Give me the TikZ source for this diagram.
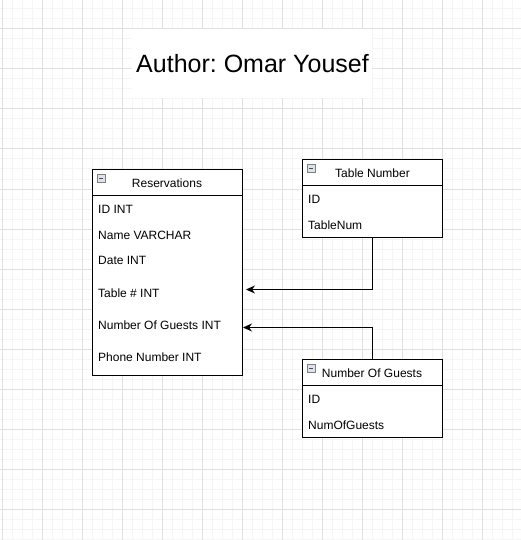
\documentclass[tikz,border=0pt]{standalone}
\usepackage{fontspec}
\setmainfont{Liberation Sans}
\usetikzlibrary{arrows.meta}
\frenchspacing
\definecolor{minorgrid}{HTML}{F5F5F5}
\definecolor{majorgrid}{HTML}{E0E0E0}
\definecolor{iconfill}{HTML}{DCE3EC}
\tikzset{minor grid/.style={color=minorgrid,line width=1pt},
	major grid/.style={color=majorgrid,line width=1pt},
	entity/.style={draw,line width=1pt,fill=white,inner sep=0pt,anchor=north west},
	row/.style={anchor=base west,inner sep=0pt,font=\fontsize{12}{14}\selectfont},
	head/.style={anchor=base,inner sep=0pt,font=\fontsize{12}{14}\selectfont},
	collapse icon/.style={draw=gray,fill=iconfill,line width=0.6pt,minimum size=8pt,inner sep=0pt,anchor=north west,
		path picture={\draw[line width=0.8pt,black!70] ([xshift=2pt]path picture bounding box.west) -- ([xshift=-2pt]path picture bounding box.east);}},
	link/.style={line width=1pt,-{Stealth[length=9pt,width=8pt]}}}

\begin{document}
\begin{tikzpicture}[x=1pt,y=-1pt]
			\useasboundingbox (0,0) rectangle (521,540);
			\fill[white] (0,0) rectangle (521,540);
			\foreach \x in {2,12,...,521} \draw[minor grid] (\x,0) -- (\x,540);
			\foreach \y in {9,19,...,540} \draw[minor grid] (0,\y) -- (521,\y);
			\foreach \x in {2,42,...,521} \draw[major grid] (\x,0) -- (\x,540);
			\foreach \y in {29,69,...,540} \draw[major grid] (0,\y) -- (521,\y);
			\fill[white] (132,29) rectangle (372,98);
			\node[font=\fontsize{25}{29}\selectfont] (title) at (252.5,64) {Author: Omar Yousef};
			\node[entity,minimum width=150,minimum height=206] (res) at (92,169) {};
			\draw[line width=1pt] (res.north west) ++(0,26) -- ++(150,0);
			\node[collapse icon] (res-icon) at (97,174) {};
			\node[head] (res-head) at (167,187) {Reservations};
			\node[row] (res-id) at (98,213) {ID INT};
			\node[row] (res-name) at (98,239) {Name VARCHAR};
			\node[row] (res-date) at (98,264) {Date INT};
			\node[row] (res-table) at (98,297) {Table \# INT};
			\node[row] (res-guests) at (98,329) {Number Of Guests INT};
			\node[row] (res-phone) at (98,361) {Phone Number INT};
			\node[entity,minimum width=140,minimum height=78] (tn) at (302,159) {};
			\draw[line width=1pt] (tn.north west) ++(0,26) -- ++(140,0);
			\node[collapse icon] (tn-icon) at (307,164) {};
			\node[head] (tn-head) at (372.5,177) {Table Number};
			\node[row] (tn-id) at (308,203) {ID};
			\node[row] (tn-num) at (308,229) {TableNum};
			\node[entity,minimum width=140,minimum height=78] (ng) at (302,359) {};
			\draw[line width=1pt] (ng.north west) ++(0,26) -- ++(140,0);
			\node[collapse icon] (ng-icon) at (307,364) {};
			\node[head] (ng-head) at (372,377) {Number Of Guests};
			\node[row] (ng-id) at (308,403) {ID};
			\node[row] (ng-num) at (308,429) {NumOfGuests};
			\coordinate (res-table-in) at (246,289.5);
			\coordinate (res-guests-in) at (243,327.5);
			\draw[link] (tn.south) |- (res-table-in);
			\draw[link] (ng.north) |- (res-guests-in);
		\end{tikzpicture}
\end{document}
